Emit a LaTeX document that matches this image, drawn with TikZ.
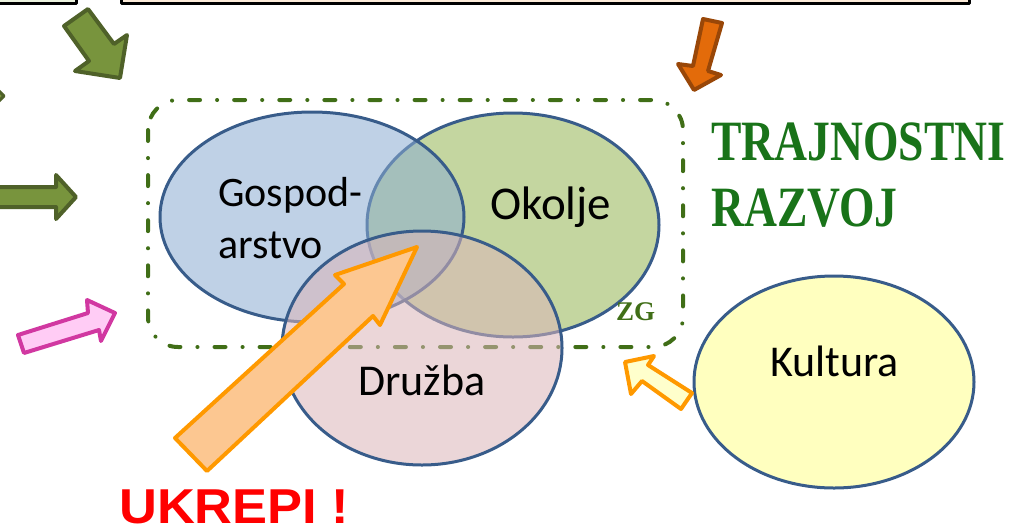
\documentclass[tikz,border=0pt]{standalone}
\usepackage{fontspec}
\usepackage{graphicx}
\setmainfont{Carlito}
\newfontfamily\naslovfont{Liberation Serif}
\newfontfamily\ukrepfont{Liberation Sans}
\usetikzlibrary{arrows}
\definecolor{ttzzqq}{rgb}{0.47,0.58,0.24}
\definecolor{qqttqq}{rgb}{0.31,0.38,0.16}
\definecolor{zzttcc}{rgb}{0.89,0.42,0.04}
\definecolor{ttqqqq}{rgb}{0.6,0.28,0.03}
\definecolor{ffccff}{rgb}{1,0.8,0.96}
\definecolor{cczzqq}{rgb}{0.82,0.22,0.63}
\definecolor{ffcczz}{rgb}{0.99,0.78,0.57}
\definecolor{ffzzqq}{rgb}{1,0.6,0}
\definecolor{ffffcc}{rgb}{1,1,0.8}
\definecolor{ffffbb}{rgb}{1,1,0.75}
\definecolor{qqzzzz}{rgb}{0.22,0.36,0.54}
\definecolor{zzccff}{rgb}{0.54,0.67,0.82}
\definecolor{ccffqq}{rgb}{0.58,0.71,0.32}
\definecolor{ffcccc}{rgb}{0.86,0.71,0.72}
\definecolor{qqzzqq}{rgb}{0.25,0.43,0.09}
\definecolor{qqttss}{rgb}{0.1,0.45,0.1}
\definecolor{ebffdd}{rgb}{0.92,0.95,0.87}
\definecolor{ffeedd}{rgb}{0.99,0.92,0.85}

\begin{document}
\begin{tikzpicture}[line cap=round,line join=round,x=1pt,y=-1pt,
  oznaka/.style={inner sep=0pt,anchor=base west,text=black}]
  \useasboundingbox (0,0) rectangle (1025,528);
  \clip (0,0) rectangle (1025,528);
  \draw [line width=3pt,fill=ebffdd] (-5,-10) rectangle (76,3);
  \draw [line width=3pt,fill=ffeedd] (121,-10) rectangle (969,3);
  \draw [color=qqzzqq,line width=4pt,rounded corners=30pt,
  dash pattern=on 11pt off 17pt on 0.1pt off 17pt] (148,100)
  rectangle (683,347);
  \draw [color=qqzzzz,line width=3pt,fill=ccffqq,fill opacity=0.55]
  (513,225) ellipse (146 and 112);
  \draw [color=qqzzzz,line width=3pt,fill=zzccff,fill opacity=0.55]
  (312,217) ellipse (152 and 105);
  \draw [color=qqzzzz,line width=3pt,fill=ffcccc,fill opacity=0.55]
  (422,348) ellipse (140 and 117);
  \draw [color=qqzzzz,line width=3pt,fill=ffffbb] (834,382) ellipse
  (140 and 106);
  \node (gospod) [oznaka,align=left,font=\fontsize{42}{52}\selectfont]
  at (218,258) {Gospod-\\arstvo};
  \node (okolje) [oznaka] at (490,219)
  {\fontsize{47}{52}\selectfont Okolje};
  \node (druzba) [oznaka] at (358,395)
  {\fontsize{44}{52}\selectfont Družba};
  \node (kultura) [oznaka] at (770,376)
  {\fontsize{44}{52}\selectfont Kultura};
  \node (zg) [oznaka,text=qqzzqq] at (616,320)
  {\naslovfont\bfseries\fontsize{27}{30}\selectfont ZG};
  \node (trajnostni) [oznaka,text=qqttss] at (711,160)
  {\naslovfont\bfseries\fontsize{57}{60}\selectfont
    \scalebox{0.8}[1]{TRAJNOSTNI}};
  \node (razvoj) [oznaka,text=qqttss] at (711,226)
  {\naslovfont\bfseries\fontsize{57}{60}\selectfont
    \scalebox{0.8}[1]{RAZVOJ}};
  \node (ukrepi) [oznaka,text=red] at (119,523)
  {\ukrepfont\bfseries\fontsize{49}{60}\selectfont
    \scalebox{1.07}[1]{UKREPI !}};
  \draw [color=qqttqq,fill=ttzzqq,line width=4pt] (64,26) -- (88,9)
  -- (114,44) -- (127,35) -- (120,78) -- (75,71) -- (89,61) -- cycle;
  \draw [color=qqttqq,fill=ttzzqq,line width=3pt] (-8,84) -- (4,96)
  -- (-4,104) -- cycle;
  \draw [color=qqttqq,fill=ttzzqq,line width=4pt] (-5,187) --
  (56,187) -- (56,175) -- (76,197) -- (56,219) -- (56,207) --
  (-5,207) -- cycle;
  \draw [color=cczzqq,fill=ffccff,line width=4pt] (18,335) --
  (88,313) -- (87,300) -- (115,313) -- (101,341) -- (99,330) --
  (24,353) -- cycle;
  \draw [color=ttqqqq,fill=zzttcc,line width=4pt] (703,19) --
  (722,23) -- (708,71) -- (721,75) -- (694,90) -- (678,64) --
  (693,66) -- cycle;
  \draw [color=ffzzqq,fill=ffffcc,line width=4pt] (625,362) --
  (654,356) -- (648,365) -- (692,393) -- (681,409) -- (642,381) --
  (631,394) -- cycle;
  \draw [color=ffzzqq,fill=ffcczz,line width=4pt] (417,247) --
  (380,325) -- (373,316) -- (207,471) -- (175,438) -- (344,284) --
  (335,275) -- cycle;
\end{tikzpicture}
\end{document}
